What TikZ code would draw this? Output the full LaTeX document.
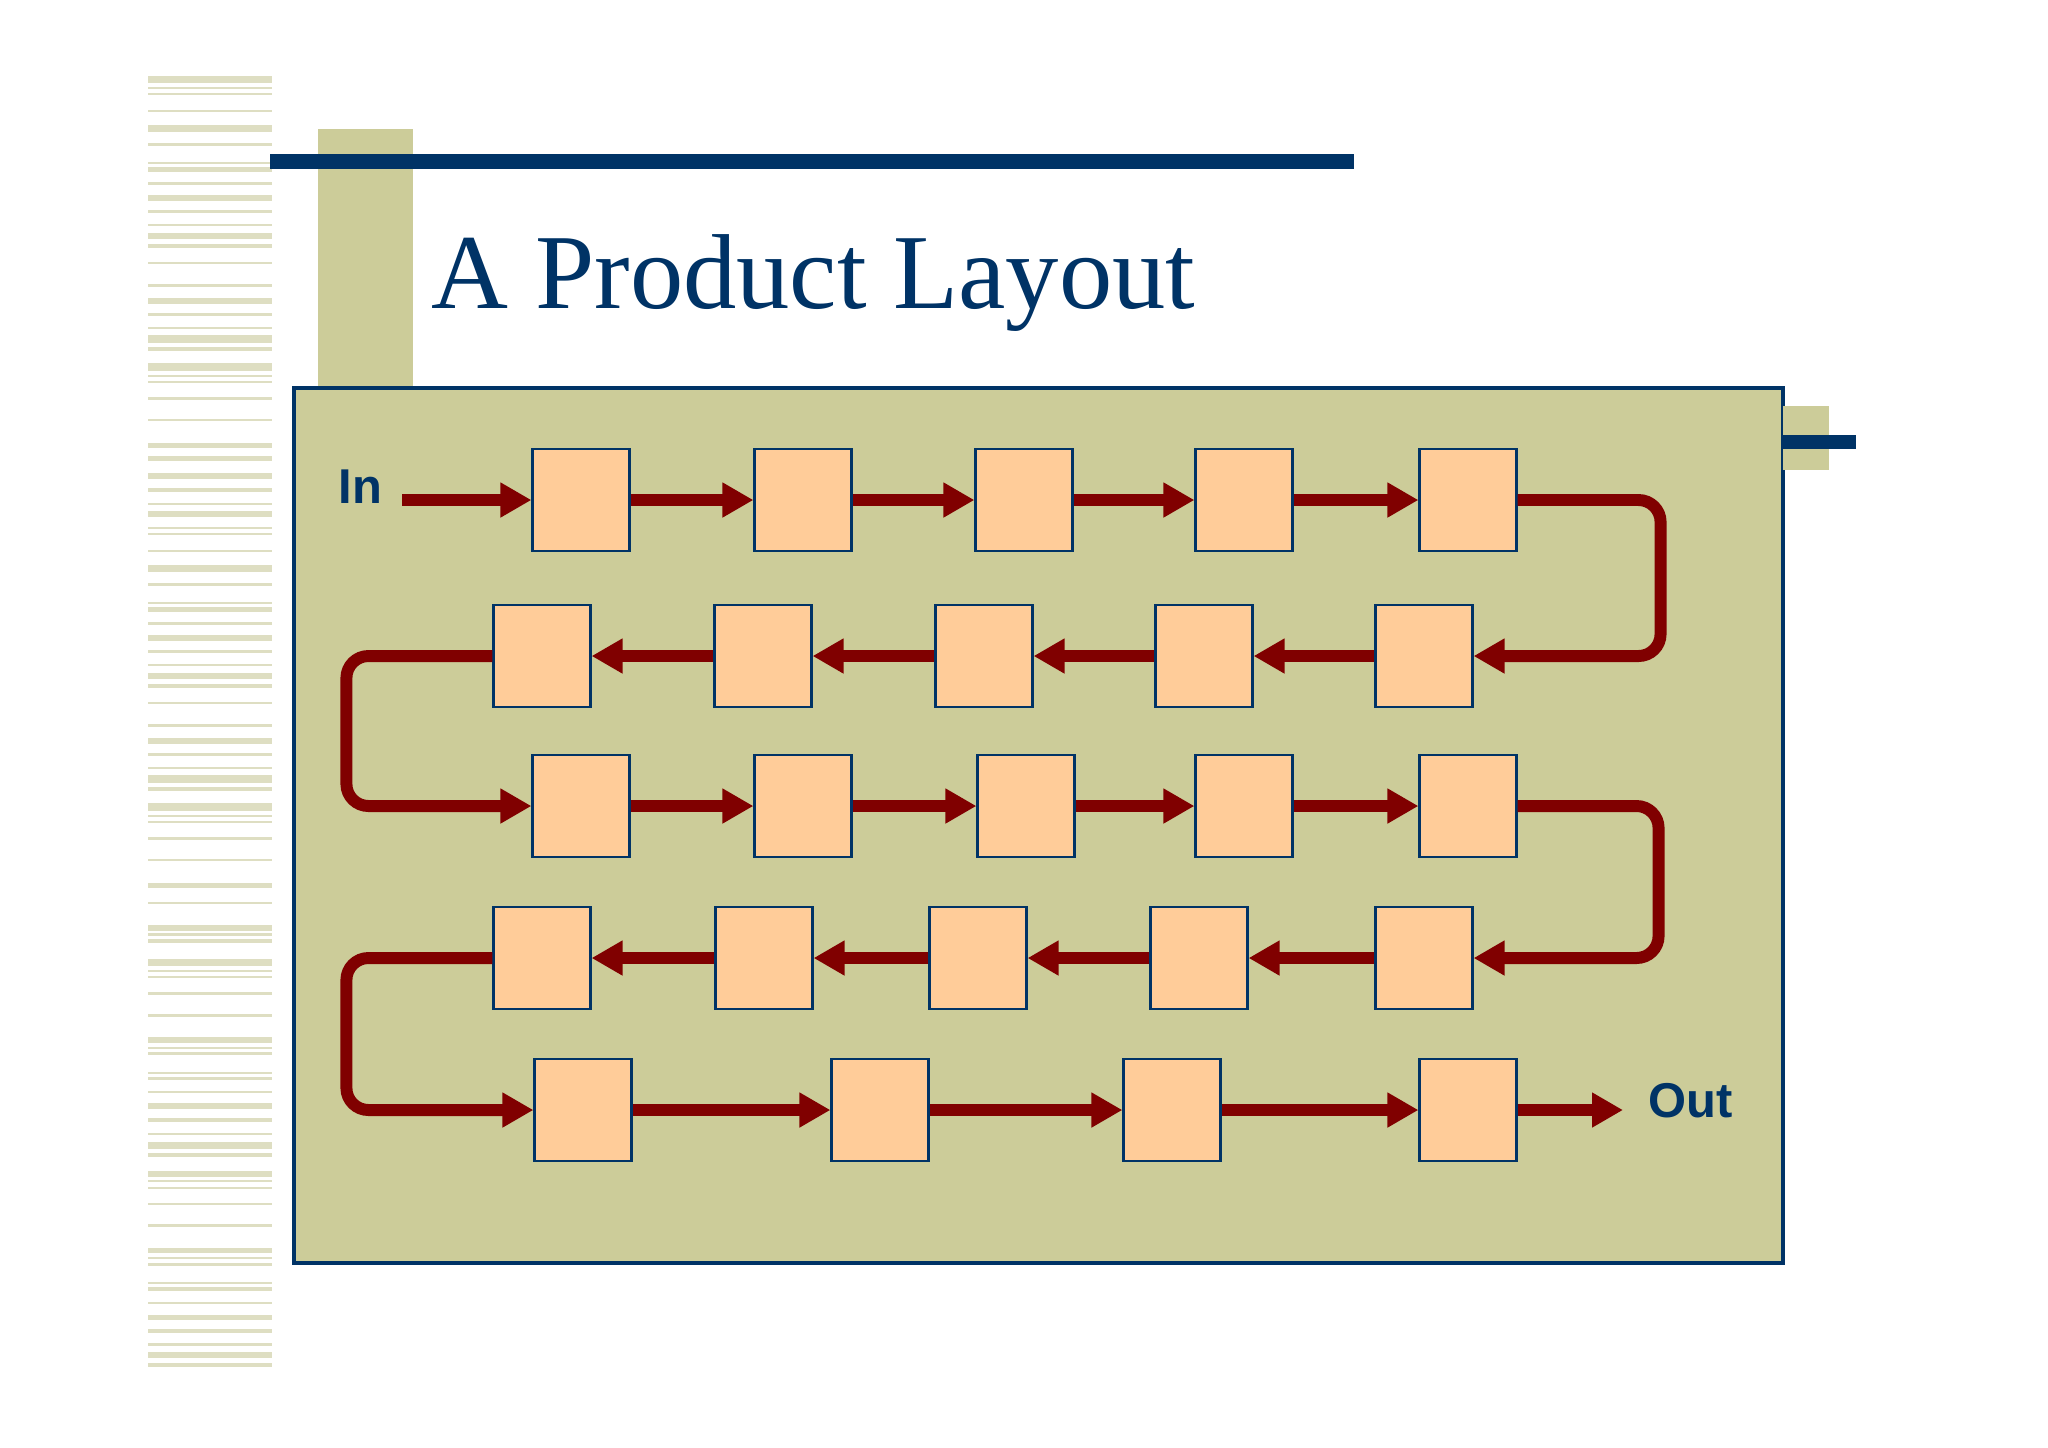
\documentclass[tikz,border=0pt]{standalone}
\usepackage{fontspec}
\setmainfont{Liberation Serif}
\setsansfont{Liberation Sans}
\usetikzlibrary{arrows.meta}
\definecolor{navy}{RGB}{0,51,102}
\definecolor{khaki}{RGB}{204,204,153}
\definecolor{peach}{RGB}{255,204,153}
\definecolor{maroon}{RGB}{128,0,0}
\definecolor{stripe}{RGB}{222,222,194}
\begin{document}
\begin{tikzpicture}[
    x=0.01cm, y=-0.01cm,
    box/.style={draw=navy, line width=0.6pt, fill=peach, minimum width=0.97cm, minimum height=1.02cm, inner sep=0pt},
    arr/.style={draw=maroon, line width=3.4pt, -{Triangle[length=0.31cm, width=0.33cm]}},
    turn/.style={arr, rounded corners=0.22cm},
    lbl/.style={text=navy, font=\sffamily\bfseries\fontsize{13.9pt}{15pt}\selectfont, inner sep=0pt, anchor=base west}
]
    \useasboundingbox[fill=white] (0,0) rectangle (2048,1447);
    % striped margin
    \foreach \y/\h in {76/7, 87/2, 93/2, 110/2, 125/7, 143/3, 162/2, 167/5, 182/3, 195/6, 210/3, 224/2, 233/6, 244/4, 262/2, 284/3, 298/6, 313/3, 327/2, 335/8, 347/4, 363/8, 375/2, 381/2, 397/3, 419/2, 443/5, 456/5, 473/6, 488/4, 503/2, 511/6,
        527/2, 533/2, 550/2, 565/7, 583/3, 602/2, 607/5, 622/3, 635/6, 650/3, 664/2, 673/6, 684/4, 702/2, 724/3, 738/6, 753/3, 767/2, 775/8, 787/4, 803/8, 815/2, 821/2, 837/3, 859/2, 883/5,
        902/2, 925/6, 933/3, 939/4, 959/7, 970/2, 976/2, 992/3, 1014/3, 1037/6, 1047/2, 1052/3, 1072/2, 1077/3, 1091/2, 1103/6, 1118/4, 1133/2, 1142/7, 1153/4, 1171/6, 1180/2, 1187/2, 1203/2, 1224/3, 1248/5, 1257/2, 1263/3, 1282/2, 1287/4, 1302/2, 1315/5, 1329/4, 1343/3, 1352/6, 1363/4}
        \fill[stripe] (148,\y) rectangle (272,\y+\h);

    % slide frame
    \fill[khaki] (318,129) rectangle (413,388);
    \fill[navy] (270,154) rectangle (1354,169);
    \node[anchor=base west, inner sep=0pt, text=navy, font=\fontsize{30.3pt}{36pt}\selectfont] (title) at (431,308) {A Product Layout};
    \draw[navy, line width=1.4pt, fill=khaki] (294,388) rectangle (1783,1263);
    \fill[khaki] (1783,406) rectangle (1829,470);
    \fill[navy] (1783,435) rectangle (1856,449);

    % stations
    \node[box] (st11) at (581,500) {};
    \node[box] (st12) at (803,500) {};
    \node[box] (st13) at (1024,500) {};
    \node[box] (st14) at (1244,500) {};
    \node[box] (st15) at (1468,500) {};
    \node[box] (st21) at (542,656) {};
    \node[box] (st22) at (763,656) {};
    \node[box] (st23) at (984,656) {};
    \node[box] (st24) at (1204,656) {};
    \node[box] (st25) at (1424,656) {};
    \node[box] (st31) at (581,806) {};
    \node[box] (st32) at (803,806) {};
    \node[box] (st33) at (1026,806) {};
    \node[box] (st34) at (1244,806) {};
    \node[box] (st35) at (1468,806) {};
    \node[box] (st41) at (542,958) {};
    \node[box] (st42) at (764,958) {};
    \node[box] (st43) at (978,958) {};
    \node[box] (st44) at (1199,958) {};
    \node[box] (st45) at (1424,958) {};
    \node[box] (st51) at (583,1110) {};
    \node[box] (st52) at (880,1110) {};
    \node[box] (st53) at (1172,1110) {};
    \node[box] (st54) at (1468,1110) {};

    \node[lbl] (inlbl) at (338,503) {In};
    \node[lbl] (outlbl) at (1648,1117) {Out};
    \coordinate (src) at (402,500);
    \coordinate (sink) at (1623,1110);

    % flow
    \draw[arr] (src) -- (st11);
    \draw[arr] (st11) -- (st12);
    \draw[arr] (st12) -- (st13);
    \draw[arr] (st13) -- (st14);
    \draw[arr] (st14) -- (st15);
    \draw[turn] (st15.east) -- ++(143,0) |- (st25.east);
    \draw[arr] (st25) -- (st24);
    \draw[arr] (st24) -- (st23);
    \draw[arr] (st23) -- (st22);
    \draw[arr] (st22) -- (st21);
    \draw[turn] (st21.west) -- ++(-146,0) |- (st31.west);
    \draw[arr] (st31) -- (st32);
    \draw[arr] (st32) -- (st33);
    \draw[arr] (st33) -- (st34);
    \draw[arr] (st34) -- (st35);
    \draw[turn] (st35.east) -- ++(141,0) |- (st45.east);
    \draw[arr] (st45) -- (st44);
    \draw[arr] (st44) -- (st43);
    \draw[arr] (st43) -- (st42);
    \draw[arr] (st42) -- (st41);
    \draw[turn] (st41.west) -- ++(-146,0) |- (st51.west);
    \draw[arr] (st51) -- (st52);
    \draw[arr] (st52) -- (st53);
    \draw[arr] (st53) -- (st54);
    \draw[arr] (st54) -- (sink);
\end{tikzpicture}
\end{document}
